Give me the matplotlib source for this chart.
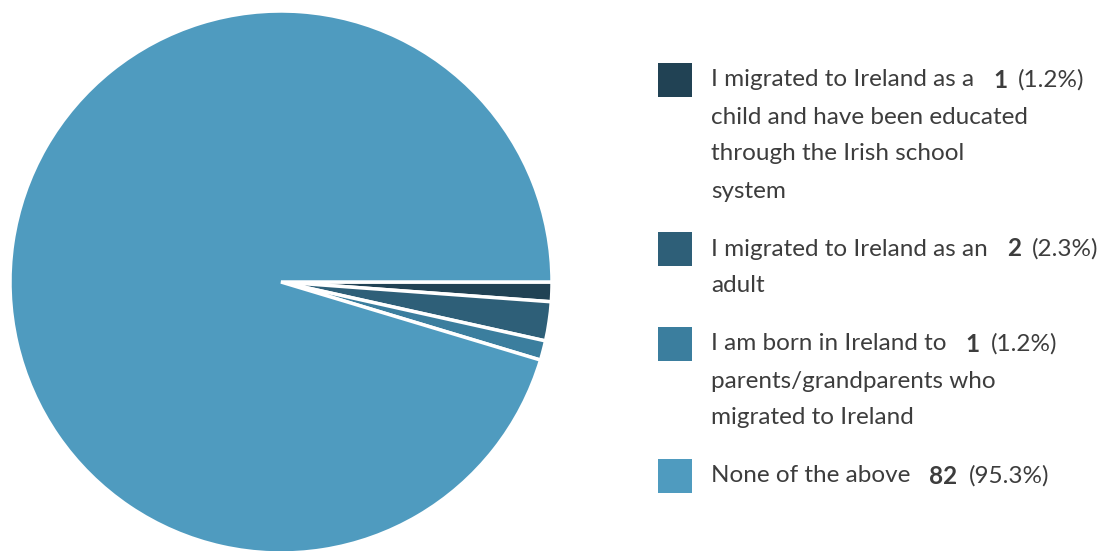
import matplotlib
matplotlib.use("Agg")
import matplotlib.pyplot as plt
from matplotlib.patches import Rectangle

# survey answers, in the order the slices are drawn (clockwise from 3 o'clock)
labels = [
    "I migrated to Ireland as a\nchild and have been educated\nthrough the Irish school\nsystem",
    "I migrated to Ireland as an\nadult",
    "I am born in Ireland to\nparents/grandparents who\nmigrated to Ireland",
    "None of the above",
]
counts = [1, 2, 1, 82]
colors = ["#214254", "#2e5f78", "#3b7e9e", "#4f9bbf"]

total = sum(counts)
pcts = [round(c / total * 100, 1) for c in counts]

W, H = 1104, 551
fig = plt.figure(figsize=(W / 100, H / 100), dpi=100)
plt.rcParams['font.family'] = ['Lato', 'DejaVu Sans']

# pie: centre (281, 282), radius 271 px
cx, cy, r = 281, 282, 271
ax = fig.add_axes([(cx - r) / W, (H - cy - r) / H, 2 * r / W, 2 * r / H])
ax.pie(counts, colors=colors, startangle=0, counterclock=False, radius=1,
       wedgeprops=dict(edgecolor="white", linewidth=2.5))
ax.set_xlim(-1, 1)
ax.set_ylim(-1, 1)
ax.set_aspect("auto")
ax.axis("off")

# legend drawn in pixel coordinates
lg = fig.add_axes([0, 0, 1, 1], zorder=5)
lg.set_xlim(0, W)
lg.set_ylim(H, 0)
lg.axis("off")

txt_col = "#3d3d3d"
fs = 17.5
line_h = 37
gap = 21
y = 80
fig.canvas.draw()
rend = fig.canvas.get_renderer()
for lab, n, p, col in zip(labels, counts, pcts, colors):
    lines = lab.split("\n")
    lg.add_patch(Rectangle((658, y - 17), 34, 34, facecolor=col, edgecolor="none"))
    first = None
    for i, ln in enumerate(lines):
        t = lg.text(711, y + i * line_h, ln, fontsize=fs, color=txt_col,
                    va="center", ha="left")
        if i == 0:
            first = t
    bb = first.get_window_extent(rend)
    t2 = lg.text(bb.x1 + 19, y, str(n), fontsize=fs, color=txt_col,
                 fontweight="bold", va="center", ha="left")
    bb2 = t2.get_window_extent(rend)
    lg.text(bb2.x1 + 11, y, "(%.1f%%)" % p, fontsize=fs, color=txt_col,
            va="center", ha="left")
    y += len(lines) * line_h + gap

fig.savefig("out.png", dpi=100, facecolor="white")
